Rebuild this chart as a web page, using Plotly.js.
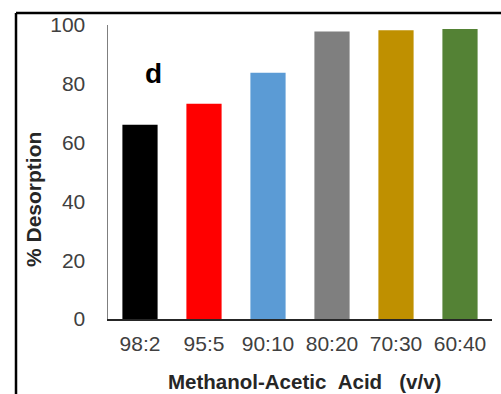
<!DOCTYPE html>
<html>
<head>
<meta charset="utf-8">
<script src="https://cdn.plot.ly/plotly-3.0.1.min.js"></script>
<style>
  html, body { margin: 0; padding: 0; background: #ffffff; }
  #chart { width: 501px; height: 394px; }
</style>
</head>
<body>
<div id="chart"></div>
<script>
// Desorption efficiency for each methanol / acetic acid eluent ratio
const ratios = ["98:2", "95:5", "90:10", "80:20", "70:30", "60:40"];
const desorption = [66.1, 73.2, 83.8, 97.8, 98.2, 98.6];
const barColors = ["#000000", "#ff0000", "#5b9bd5", "#7f7f7f", "#bf9000", "#548235"];
const yTicks = [0, 20, 40, 60, 80, 100];
const panelLabel = "d";

const trace = {
  type: "bar",
  x: ratios,
  y: desorption,
  marker: { color: barColors, line: { width: 0 } },
  hoverinfo: "x+y"
};

const layout = {
  width: 501,
  height: 394,
  margin: { l: 108, r: 9, t: 25, b: 75, pad: 0 },
  paper_bgcolor: "#ffffff",
  plot_bgcolor: "#ffffff",
  showlegend: false,
  bargap: 0.45,
  font: { family: "Liberation Sans, Arial, sans-serif", color: "#404040" },
  xaxis: {
    type: "category",
    showgrid: false,
    zeroline: false,
    showline: true,
    linecolor: "#262626",
    linewidth: 1.5,
    ticks: "",
    tickfont: { size: 21, color: "#404040" },
    ticklabelstandoff: 5,
    fixedrange: true
  },
  yaxis: {
    range: [0, 100],
    tickvals: yTicks,
    ticktext: yTicks.map(String),
    showgrid: false,
    zeroline: false,
    showline: true,
    linecolor: "#7f7f7f",
    linewidth: 1.5,
    ticks: "",
    tickfont: { size: 21, color: "#404040" },
    ticklabelstandoff: 17,
    fixedrange: true
  },
  annotations: [
    {
      text: "<b>% Desorption</b>",
      xref: "paper", yref: "paper",
      x: (33 - 108) / 384, y: (319 - 200) / 294,
      xanchor: "center", yanchor: "middle",
      textangle: -90,
      showarrow: false,
      font: { size: 21, color: "#262626" }
    },
    {
      text: "<b>Methanol-Acetic&nbsp;&nbsp;Acid&nbsp;&nbsp;&nbsp;(v/v)</b>",
      xref: "paper", yref: "paper",
      x: (304 - 108) / 384, y: -(381 - 319) / 294,
      xanchor: "center", yanchor: "middle",
      showarrow: false,
      font: { size: 20.5, color: "#262626" }
    },
    {
      text: "<b>" + panelLabel + "</b>",
      xref: "paper", yref: "paper",
      x: (153 - 108) / 384, y: (319 - 74) / 294,
      xanchor: "center", yanchor: "middle",
      showarrow: false,
      font: { size: 28, color: "#000000" }
    }
  ],
  shapes: [
    // outer frame: left and top edges
    {
      type: "line", xref: "paper", yref: "paper",
      x0: (16 - 108) / 384, x1: (16 - 108) / 384,
      y0: -(394 - 319) / 294, y1: (319 - 13) / 294,
      line: { color: "#000000", width: 2.5 }
    },
    {
      type: "line", xref: "paper", yref: "paper",
      x0: (16 - 108) / 384, x1: (501 - 108) / 384,
      y0: (319 - 13) / 294, y1: (319 - 13) / 294,
      line: { color: "#000000", width: 2.5 }
    }
  ]
};

Plotly.newPlot("chart", [trace], layout, { displayModeBar: false, staticPlot: true });
</script>
</body>
</html>
